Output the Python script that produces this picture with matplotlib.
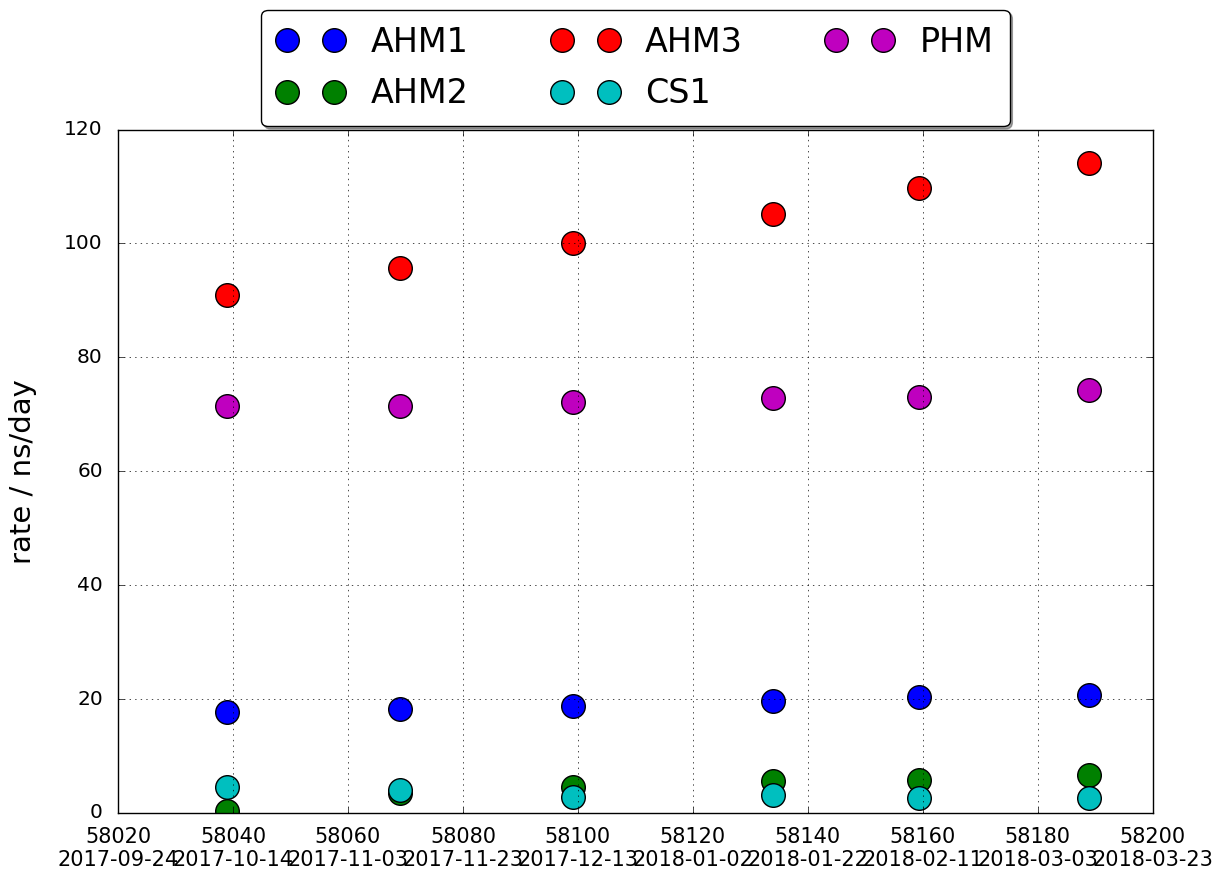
import numpy as np
import pandas as pd
from matplotlib import pyplot as plt
from matplotlib import ticker

# benchmark runs, x in MJD
mjd = [58039, 58069, 58099.2, 58134, 58159.3, 58189]

rates = {
    'AHM1': [17.7, 18.2, 18.7, 19.7, 20.3, 20.7],
    'AHM2': [0.3, 3.5, 4.6, 5.7, 5.8, 6.6],
    'AHM3': [91.0, 95.7, 100.0, 105.1, 109.7, 114.1],
    'CS1': [4.6, 4.0, 2.8, 3.2, 2.6, 2.6],
    'PHM': [71.4, 71.4, 72.2, 72.8, 73.1, 74.2],
}
colors = {'AHM1': 'b', 'AHM2': 'g', 'AHM3': 'r', 'CS1': 'c', 'PHM': 'm'}
order = ['AHM1', 'AHM2', 'AHM3', 'CS1', 'PHM']

MJD_EPOCH = pd.Timestamp('1858-11-17')


def mjd_label(x, pos):
    day = MJD_EPOCH + pd.Timedelta(days=float(x))
    return f"{int(round(x))}\n{day.strftime('%Y-%m-%d')}"


plt.style.use('classic')
fig = plt.figure(figsize=(12.22, 8.83), dpi=100)
ax = fig.add_axes([0.0966, 0.0793, 0.9433 - 0.0966, 0.8533 - 0.0793])

for name in order:
    ax.plot(mjd, rates[name], 'o', color=colors[name], ms=17, mec='k', mew=1.0,
            label=name, clip_on=True)

ax.set_xlim(58020, 58200)
ax.set_ylim(0, 120)
ax.xaxis.set_major_locator(ticker.MultipleLocator(20))
ax.xaxis.set_major_formatter(ticker.FuncFormatter(mjd_label))
ax.yaxis.set_major_locator(ticker.MultipleLocator(20))
ax.tick_params(axis='x', labelsize=15, pad=10)
ax.tick_params(axis='y', labelsize=14.5, pad=11)
for lab in ax.get_xticklabels():
    lab.set_multialignment('center')
ax.set_ylabel('rate / ns/day', fontsize=21)
ax.yaxis.set_label_coords(-0.078, 0.5)
ax.grid(True)

ax.legend(loc='lower center', bbox_to_anchor=(0.5, 1.0), ncol=3, numpoints=2,
          fontsize=24, fancybox=True, shadow=True, borderaxespad=0.1,
          borderpad=0.48, labelspacing=0.56, columnspacing=2.5,
          handletextpad=0.8)

fig.savefig('out.png', dpi=100, facecolor='white')
